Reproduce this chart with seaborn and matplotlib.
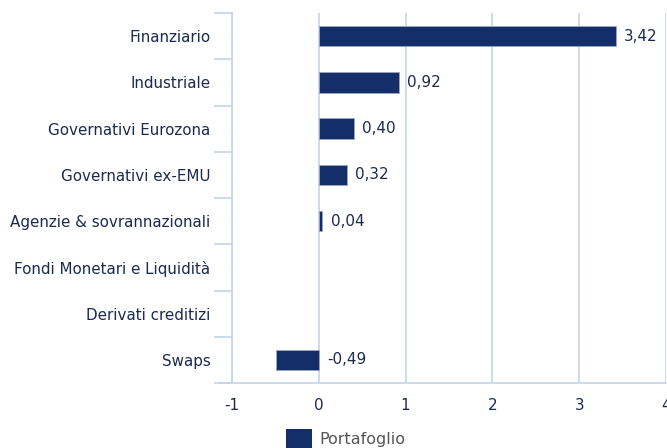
import matplotlib
matplotlib.use("Agg")
import matplotlib.pyplot as plt
import seaborn as sns
import pandas as pd
from matplotlib.patches import Patch

categories = ["Finanziario", "Industriale", "Governativi Eurozona", "Governativi ex-EMU",
              "Agenzie & sovrannazionali", "Fondi Monetari e Liquidità", "Derivati creditizi", "Swaps"]
values = [3.42, 0.92, 0.40, 0.32, 0.04, 0.0, 0.0, -0.49]
labels = ["3,42", "0,92", "0,40", "0,32", "0,04", "", "", "-0,49"]
xticks = [-1, 0, 1, 2, 3, 4]
series_name = "Portafoglio"

navy = "#132e69"
grid_c = "#c5d4e8"
text_c = "#1c2a4f"
fs = 10.9

sns.set_theme(style="white")
plt.rcParams['font.family'] = ['DejaVu Sans']

df = pd.DataFrame({"cat": categories, "val": values})

fig = plt.figure(figsize=(6.67, 4.48), dpi=100)
ax = fig.add_axes([232/667, 1-383/448, (666-232)/667, (383-13)/448])

sns.barplot(data=df, y="cat", x="val", orient="h", color=navy, width=0.44,
            saturation=1, ax=ax, edgecolor="#9aa6c0", linewidth=0.6, zorder=3)
for p in ax.patches:
    if abs(p.get_width()) < 1e-9:
        p.set_visible(False)

ax.set_xlim(-1, 4)
ax.set_ylim(len(categories) - 0.5, -0.5)
ax.set_xticks(xticks)
ax.set_xticklabels([str(t) for t in xticks], color=text_c, fontsize=fs)
ax.set_yticks(range(len(categories)))
ax.set_yticklabels(categories, color=text_c, fontsize=fs)
ax.tick_params(axis="y", which="major", length=0, pad=15.5)
ax.tick_params(axis="x", length=0, pad=11)
ax.set_yticks([i - 0.5 for i in range(len(categories) + 1)], minor=True)
ax.tick_params(axis="y", which="minor", left=True, length=13, color=grid_c, width=1.2, direction="out")
ax.set_xlabel("")
ax.set_ylabel("")

for x in xticks:
    ax.axvline(x, color=grid_c, linewidth=1.2, zorder=1)

for s in ["top", "right"]:
    ax.spines[s].set_visible(False)
ax.spines["left"].set_color(grid_c)
ax.spines["left"].set_linewidth(1.2)
ax.spines["bottom"].set_color(grid_c)
ax.spines["bottom"].set_linewidth(1.2)
ax.spines["bottom"].set_bounds(-1.15, 4)

for i, (v, lab) in enumerate(zip(values, labels)):
    if lab:
        ax.text(max(v, 0) + 0.1, i, lab, va="center", ha="left", color=text_c, fontsize=fs)

fig.legend(handles=[Patch(facecolor=navy, edgecolor="none")], labels=[series_name],
           loc="upper left", bbox_to_anchor=(272/667, 1-415/448), frameon=False,
           handlelength=1.6, handleheight=1.4, handletextpad=0.45,
           prop={"size": 11.5}, labelcolor="#555555")

fig.savefig("out.png", dpi=100)
